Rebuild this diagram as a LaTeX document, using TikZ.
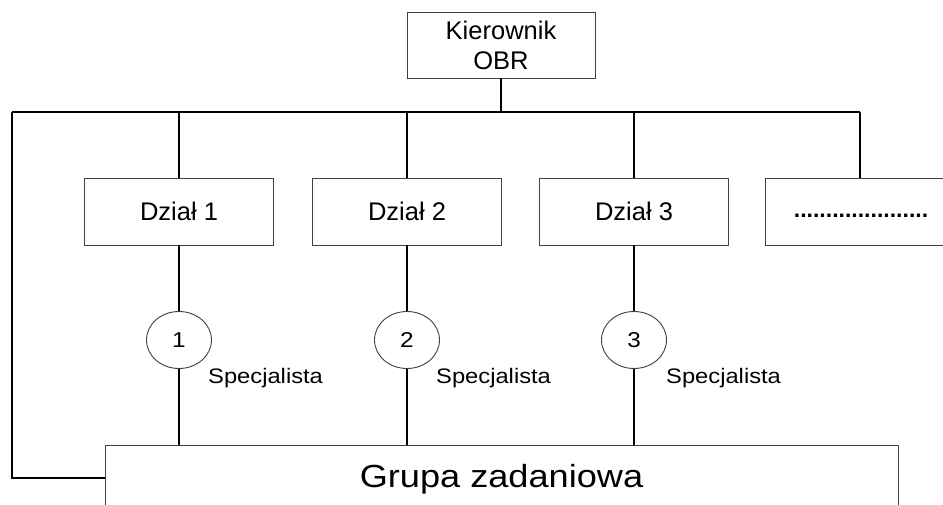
\documentclass[tikz,border=0pt]{standalone}
\usepackage{fontspec}
\setmainfont{Liberation Sans}
\usetikzlibrary{shapes.geometric}
\newcommand{\wide}{\addfontfeature{FakeStretch=1.13}}
\begin{document}
\begin{tikzpicture}[x=1pt,y=-1pt,
  box/.style={draw=black!75,line width=0.9pt,fill=white,rectangle,inner sep=0pt},
  dept/.style={box,minimum width=189pt,minimum height=67pt,font=\fontsize{25.5}{29}\selectfont},
  spec/.style={draw=black!75,line width=0.9pt,ellipse,fill=white,minimum width=65pt,minimum height=57pt,inner sep=0pt,font=\fontsize{21.5}{25}\selectfont\wide},
  speclbl/.style={anchor=west,inner sep=0pt,font=\fontsize{21}{25}\selectfont\wide},
  link/.style={line width=2.8pt}]
\useasboundingbox (0,0) rectangle (943,505);
\clip (0,0) rectangle (943,505);

% bus and connectors (drawn first, boxes sit on top)
\coordinate (busL) at (12,112);
\coordinate (busR) at (860,112);
\coordinate (kb) at (501,112);
\coordinate (b1) at (179,112);
\coordinate (b2) at (407,112);
\coordinate (b3) at (634,112);
\coordinate (lb) at (12,478);

% head
\node[box,minimum width=188pt,minimum height=66pt,align=center,font=\fontsize{25.5}{30}\selectfont] (kier) at (501,45) {Kierownik\\OBR};

% departments
\node[dept] (d1) at (179,211.5) {Dział 1};
\node[dept] (d2) at (407,211.5) {Dział 2};
\node[dept] (d3) at (634,211.5) {Dział 3};
\node[dept] (d4) at (860,211.5) {};
\node[font=\fontsize{23}{27}\selectfont,inner sep=0pt,anchor=base] (d4t) at (861,218) {\textbf{.....................}};

% task group
\node[box,minimum width=793pt,minimum height=100pt,anchor=north west] (grupa) at (105,445) {};
\node[inner sep=0pt,font=\fontsize{32}{38}\selectfont\wide] (gt) at (501.5,479.5) {Grupa zadaniowa};

\draw[link] (busL) -- (busR);
\draw[link] (kier.south) -- (kb);
\draw[link] (b1) -- (d1.north);
\draw[link] (b2) -- (d2.north);
\draw[link] (b3) -- (d3.north);
\draw[link] (busR) -- (busR |- d4.north);
\draw[link] (busL) -- (lb) -- (lb -| grupa.west);
\draw[link] (d1.south) -- (d1.south |- grupa.north);
\draw[link] (d2.south) -- (d2.south |- grupa.north);
\draw[link] (d3.south) -- (d3.south |- grupa.north);

% specialists
\node[spec] (c1) at (179,340) {1};
\node[spec] (c2) at (407,340) {2};
\node[spec] (c3) at (634,340) {3};
\node[speclbl] (s1) at (208,378) {Specjalista};
\node[speclbl] (s2) at (436,378) {Specjalista};
\node[speclbl] (s3) at (666,378) {Specjalista};
\end{tikzpicture}
\end{document}
